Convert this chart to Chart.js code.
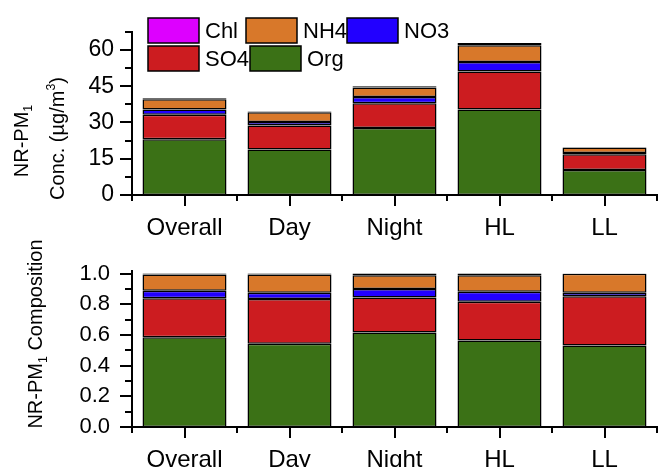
<!DOCTYPE html>
<html><head><meta charset="utf-8">
<script src="https://cdn.jsdelivr.net/npm/chart.js@4"></script>
<style>
html,body{margin:0;padding:0;background:#fff;width:659px;height:467px;overflow:hidden}
#top{position:absolute;left:0;top:0;width:659px;height:246px}
#bot{position:absolute;left:0;top:236px;width:659px;height:231px}
</style></head><body>
<div id="top"><canvas id="c1"></canvas></div>
<div id="bot"><canvas id="c2"></canvas></div>
<script>
// ---------- data ----------
const categories = ['Overall', 'Day', 'Night', 'HL', 'LL'];
const seriesNames = ['Org', 'SO4', 'NO3', 'NH4', 'Chl'];
// concentrations (µg/m3)
const concOrg = [23.1, 18.8, 27.7, 35.4, 10.3];
const concSO4 = [10.1, 9.9, 10.2, 15.7, 6.6];
const concNO3 = [2.2, 1.5, 2.6, 3.9, 0.5];
const concNH4 = [4.2, 4.0, 4.0, 6.9, 2.2];
const concChl = [0.4, 0.3, 0.5, 1.0, 0.2];
// mass fractions
const fracOrg = [0.585, 0.542, 0.616, 0.563, 0.531];
const fracSO4 = [0.253, 0.292, 0.227, 0.253, 0.321];
const fracNO3 = [0.050, 0.041, 0.056, 0.065, 0.023];
const fracNH4 = [0.105, 0.118, 0.090, 0.108, 0.123];
const fracChl = [0.007, 0.007, 0.011, 0.011, 0.002];
// axis ticks
const concTickStep = 15, concMinorStep = 7.5, concMax = 67.5;
const fracTickStep = 0.2, fracMinorStep = 0.1, fracMax = 1.015;
// titles
const topTitleLine1 = [{t: 'NR-PM'}, {t: '1', sub: true}];
const topTitleLine2 = [{t: 'Conc. (\u00b5g/m'}, {t: '3', sup: true}, {t: ')'}];
const botTitle = [{t: 'NR-PM'}, {t: '1', sub: true}, {t: ' Composition'}];
const legendRows = [['Chl', 'NH4', 'NO3'], ['SO4', 'Org']];

// ---------- styling ----------
const FONT = "'Liberation Sans', Arial, sans-serif";
const colors = {Org: '#3b7116', SO4: '#cc1c20', NO3: '#2200ff', NH4: '#d8782a', Chl: '#dd00ff'};
Chart.defaults.font.family = FONT;
Chart.defaults.color = '#000';

function makeDatasets(arrs) {
  return seriesNames.map((n, i) => ({
    label: n, data: arrs[i], backgroundColor: colors[n],
    borderColor: '#000', borderWidth: 1.5, borderSkipped: false,
    barPercentage: 0.8, categoryPercentage: 1.0
  }));
}

function drawRich(ctx, parts, cx, cy, size) {
  ctx.save();
  ctx.translate(cx, cy);
  ctx.rotate(-Math.PI / 2);
  let w = 0;
  const segs = parts.map(p => {
    const s = (p.sub || p.sup) ? size * 0.62 : size;
    ctx.font = s + 'px ' + FONT;
    const m = ctx.measureText(p.t).width;
    w += m;
    return {p, s, m};
  });
  let x = -w / 2;
  ctx.fillStyle = '#000';
  ctx.textAlign = 'left';
  ctx.textBaseline = 'alphabetic';
  const base = size * 0.36;
  for (const g of segs) {
    ctx.font = g.s + 'px ' + FONT;
    let y = base;
    if (g.p.sub) y += size * 0.22;
    if (g.p.sup) y -= size * 0.45;
    ctx.fillText(g.p.t, x, y);
    x += g.m;
  }
  ctx.restore();
}

const axisTicks = {
  id: 'axisTicks',
  afterDraw(chart, args, opts) {
    const ctx = chart.ctx, xs = chart.scales.x, ys = chart.scales.y, ca = chart.chartArea;
    ctx.save();
    ctx.strokeStyle = '#000';
    ctx.lineWidth = 2;
    const line = (a, b, c, d) => { ctx.beginPath(); ctx.moveTo(a, b); ctx.lineTo(c, d); ctx.stroke(); };
    ys.ticks.forEach(t => { const p = Math.round(ys.getPixelForValue(t.value)); line(ca.left - 12, p, ca.left, p); });
    for (let k = 0; k * opts.minor <= ys.max + 1e-9; k++) {
      const v = k * opts.minor;
      const r = v / opts.major;
      if (Math.abs(r - Math.round(r)) < 1e-6) continue;
      const p = Math.round(ys.getPixelForValue(v));
      line(ca.left - 7, p, ca.left, p);
    }
    const n = categories.length;
    categories.forEach((c, i) => { const p = Math.round(xs.getPixelForValue(i)); line(p, ca.bottom, p, ca.bottom + 11); });
    for (let i = 0; i <= n; i++) {
      const p = Math.round(ca.left + i * (ca.right - ca.left) / n);
      line(p, ca.bottom, p, ca.bottom + 6);
    }
    ctx.restore();
  }
};

const yTitles = {
  id: 'yTitles',
  afterDraw(chart, args, opts) {
    (opts.items || []).forEach(it => drawRich(chart.ctx, it.parts, it.x, it.y, it.size));
  }
};

const customLegend = {
  id: 'customLegend',
  afterDraw(chart, args, opts) {
    if (!opts.rows) return;
    const ctx = chart.ctx;
    ctx.save();
    ctx.font = '22px ' + FONT;
    ctx.textBaseline = 'alphabetic';
    opts.rows.forEach((row, ri) => {
      const y = opts.y[ri];
      row.forEach((name, ci) => {
        const ds = chart.data.datasets.find(d => d.label === name);
        const x = opts.x[ri][ci];
        ctx.fillStyle = ds.backgroundColor;
        ctx.fillRect(x, y, 51, 25);
        ctx.strokeStyle = '#000';
        ctx.lineWidth = 1.5;
        ctx.strokeRect(x, y, 51, 25);
        ctx.fillStyle = '#000';
        ctx.fillText(ds.label, x + 57, y + 12.5 + 7.9);
      });
    });
    ctx.restore();
  }
};

function baseOptions(cfg) {
  return {
    responsive: true, maintainAspectRatio: false, animation: false, devicePixelRatio: 1,
    layout: {padding: {top: cfg.padTop, right: 2, left: 0, bottom: 0}},
    plugins: {
      legend: {display: false}, tooltip: {enabled: false},
      axisTicks: {major: cfg.major, minor: cfg.minor},
      yTitles: {items: cfg.titles},
      customLegend: cfg.legend || {}
    },
    scales: {
      x: {
        stacked: true,
        grid: {display: false, drawTicks: false},
        border: {display: true, color: '#000', width: 2},
        ticks: {font: {size: 24}, padding: cfg.xPad, color: '#000'},
        afterFit: s => { s.height = cfg.xHeight; }
      },
      y: {
        stacked: true, min: 0, max: cfg.max,
        grid: {display: false, drawTicks: false},
        border: {display: true, color: '#000', width: 2},
        ticks: {stepSize: cfg.major, includeBounds: false, font: {size: cfg.ySize}, padding: cfg.yPad, color: '#000',
                callback: cfg.fmt},
        afterFit: s => { s.width = 132; }
      }
    }
  };
}

new Chart(document.getElementById('c1'), {
  type: 'bar',
  data: {labels: categories, datasets: makeDatasets([concOrg, concSO4, concNO3, concNH4, concChl])},
  options: baseOptions({
    padTop: 13, max: concMax, major: concTickStep, minor: concMinorStep, xPad: 19, xHeight: 51, yPad: 18, ySize: 23,
    fmt: v => String(Math.round(v)),
    titles: [{parts: topTitleLine1, x: 20.5, y: 141, size: 20}, {parts: topTitleLine2, x: 57, y: 138.5, size: 20}],
    legend: {rows: legendRows, y: [18, 46], x: [[148, 246, 347], [148, 250]]}
  }),
  plugins: [axisTicks, yTitles, customLegend]
});

new Chart(document.getElementById('c2'), {
  type: 'bar',
  data: {labels: categories, datasets: makeDatasets([fracOrg, fracSO4, fracNO3, fracNH4, fracChl])},
  options: baseOptions({
    padTop: 3, max: fracMax, major: fracTickStep, minor: fracMinorStep, xPad: 19, xHeight: 40, yPad: 22, ySize: 22,
    fmt: v => Number(v).toFixed(1),
    titles: [{parts: botTitle, x: 35, y: 98, size: 20}]
  }),
  plugins: [axisTicks, yTitles, customLegend]
});
</script>
</body></html>
